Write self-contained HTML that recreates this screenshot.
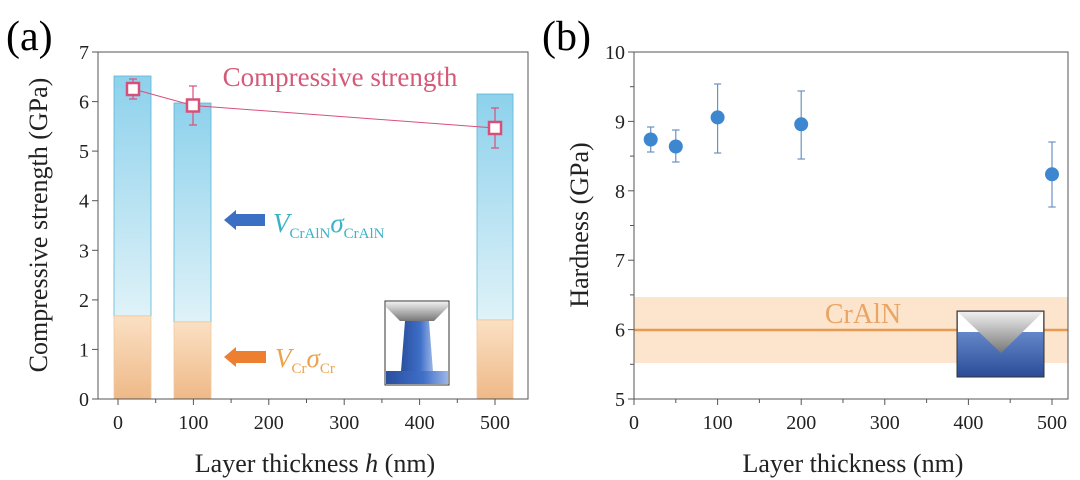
<!DOCTYPE html>
<html><head><meta charset="utf-8"><style>
html,body{margin:0;padding:0;background:#fff;}
svg{display:block;font-family:"Liberation Serif",serif;}
</style></head><body>
<svg width="1080" height="480" viewBox="0 0 1080 480" xmlns="http://www.w3.org/2000/svg">
<defs>
<linearGradient id="blue" x1="0" y1="0" x2="0" y2="1">
<stop offset="0" stop-color="#8dd1ec"/><stop offset="1" stop-color="#dff2f8"/></linearGradient>
<linearGradient id="org" x1="0" y1="0" x2="0" y2="1">
<stop offset="0" stop-color="#fbe0c4"/><stop offset="1" stop-color="#eeb987"/></linearGradient>
<linearGradient id="ind" x1="0" y1="0" x2="0" y2="1">
<stop offset="0" stop-color="#eee"/><stop offset="1" stop-color="#777"/></linearGradient>
<linearGradient id="pill" x1="0" y1="0" x2="1" y2="0">
<stop offset="0" stop-color="#2a4f9e"/><stop offset="0.6" stop-color="#3f6fc8"/><stop offset="1" stop-color="#9bb5e6"/></linearGradient>
<linearGradient id="sub" x1="0" y1="0" x2="0" y2="1">
<stop offset="0" stop-color="#7fa3e0"/><stop offset="1" stop-color="#2a4c98"/></linearGradient>
</defs>

<!-- Panel a -->
<text x="6" y="50" font-size="42">(a)</text>
<rect x="114" y="76" width="37" height="240" fill="url(#blue)" stroke="#5bb7d6" stroke-width="0.8"/>
<rect x="114" y="316" width="37" height="83" fill="url(#org)" stroke="#f0c9a0" stroke-width="0.8"/>
<rect x="174" y="103" width="37" height="219" fill="url(#blue)" stroke="#5bb7d6" stroke-width="0.8"/>
<rect x="174" y="322" width="37" height="77" fill="url(#org)" stroke="#f0c9a0" stroke-width="0.8"/>
<rect x="477" y="94" width="36" height="226" fill="url(#blue)" stroke="#5bb7d6" stroke-width="0.8"/>
<rect x="477" y="320" width="36" height="79" fill="url(#org)" stroke="#f0c9a0" stroke-width="0.8"/>
<rect x="98" y="52" width="430" height="347" fill="none" stroke="#555" stroke-width="1"/>
<g stroke="#555" stroke-width="1">
<line x1="98" y1="399" x2="92" y2="399"/><line x1="98" y1="349.4" x2="92" y2="349.4"/><line x1="98" y1="299.9" x2="92" y2="299.9"/><line x1="98" y1="250.3" x2="92" y2="250.3"/><line x1="98" y1="200.7" x2="92" y2="200.7"/><line x1="98" y1="151.1" x2="92" y2="151.1"/><line x1="98" y1="101.6" x2="92" y2="101.6"/><line x1="98" y1="52" x2="92" y2="52"/>
<line x1="118" y1="399" x2="118" y2="405"/><line x1="193.4" y1="399" x2="193.4" y2="405"/><line x1="268.8" y1="399" x2="268.8" y2="405"/><line x1="344.2" y1="399" x2="344.2" y2="405"/><line x1="419.6" y1="399" x2="419.6" y2="405"/><line x1="495" y1="399" x2="495" y2="405"/>
<line x1="155.7" y1="399" x2="155.7" y2="403"/><line x1="231.1" y1="399" x2="231.1" y2="403"/><line x1="306.5" y1="399" x2="306.5" y2="403"/><line x1="381.9" y1="399" x2="381.9" y2="403"/><line x1="457.3" y1="399" x2="457.3" y2="403"/>
</g>
<g font-size="20" text-anchor="end" fill="#222">
<text x="89" y="406">0</text><text x="89" y="356.4">1</text><text x="89" y="306.9">2</text><text x="89" y="257.3">3</text><text x="89" y="207.7">4</text><text x="89" y="158.1">5</text><text x="89" y="108.6">6</text><text x="89" y="59">7</text>
</g>
<g font-size="20" text-anchor="middle" fill="#222">
<text x="118" y="429">0</text><text x="193.4" y="429">100</text><text x="268.8" y="429">200</text><text x="344.2" y="429">300</text><text x="419.6" y="429">400</text><text x="495" y="429">500</text>
</g>
<text x="315" y="472" font-size="26" text-anchor="middle" fill="#222">Layer thickness <tspan font-style="italic">h</tspan> (nm)</text>
<text transform="translate(47,225) rotate(-90)" font-size="26" text-anchor="middle" fill="#222">Compressive strength (GPa)</text>
<polyline points="133,89 193,105.5 495,128" fill="none" stroke="#d8507a" stroke-width="1"/>
<g stroke="#d8507a" stroke-width="1.2">
<line x1="133" y1="79" x2="133" y2="99"/><line x1="129" y1="79" x2="137" y2="79"/><line x1="129" y1="99" x2="137" y2="99"/>
<line x1="193" y1="86" x2="193" y2="125"/><line x1="189" y1="86" x2="197" y2="86"/><line x1="189" y1="125" x2="197" y2="125"/>
<line x1="495" y1="108" x2="495" y2="148"/><line x1="491" y1="108" x2="499" y2="108"/><line x1="491" y1="148" x2="499" y2="148"/>
</g>
<g fill="#fff" stroke="#d8507a" stroke-width="2.5">
<rect x="127" y="83" width="12" height="12"/><rect x="187" y="99.5" width="12" height="12"/><rect x="489" y="122" width="12" height="12"/>
</g>
<text x="340" y="86" font-size="27" text-anchor="middle" fill="#d45a78">Compressive strength</text>
<polygon points="224,220 236,210 236,214 265,214 265,226 236,226 236,230" fill="#3b6fc4"/>
<text x="273" y="232" font-size="27" font-style="italic" fill="#3ab3c9">V<tspan font-size="15" font-style="normal" dy="6">CrAlN</tspan><tspan dy="-6">σ</tspan><tspan font-size="15" font-style="normal" dy="6">CrAlN</tspan></text>
<polygon points="224,357 236,347 236,351 266,351 266,363 236,363 236,367" fill="#ec7f30"/>
<text x="275" y="367" font-size="27" font-style="italic" fill="#eda24a">V<tspan font-size="15" font-style="normal" dy="6">Cr</tspan><tspan dy="-6">σ</tspan><tspan font-size="15" font-style="normal" dy="6">Cr</tspan></text>
<rect x="385" y="301" width="64" height="84" fill="#fff" stroke="#333" stroke-width="1"/>
<polygon points="386,302 448,302 448,307 434,321 400,321 386,307" fill="url(#ind)"/>
<polygon points="405,321 429,321 433,371 401,371" fill="url(#pill)"/>
<rect x="386" y="371" width="62" height="13" fill="url(#pill)"/>

<!-- Panel b -->
<text x="542" y="50" font-size="42">(b)</text>
<rect x="634" y="297" width="434" height="66" fill="#fce4cd"/>
<line x1="634" y1="330" x2="1068" y2="330" stroke="#e89a50" stroke-width="2.5"/>
<text x="863" y="323" font-size="28" text-anchor="middle" fill="#e9a565">CrAlN</text>
<rect x="957" y="311" width="87" height="66" fill="url(#sub)" stroke="#333" stroke-width="1"/>
<rect x="958" y="312" width="85" height="20" fill="#fff"/>
<polygon points="958,312 1043,312 1001,353" fill="url(#ind)"/>
<rect x="634" y="52" width="434" height="347" fill="none" stroke="#555" stroke-width="1"/>
<g stroke="#555" stroke-width="1">
<line x1="634" y1="399" x2="628" y2="399"/><line x1="634" y1="329.6" x2="628" y2="329.6"/><line x1="634" y1="260.2" x2="628" y2="260.2"/><line x1="634" y1="190.8" x2="628" y2="190.8"/><line x1="634" y1="121.4" x2="628" y2="121.4"/><line x1="634" y1="52" x2="628" y2="52"/>
<line x1="634" y1="364.3" x2="630" y2="364.3"/><line x1="634" y1="294.9" x2="630" y2="294.9"/><line x1="634" y1="225.5" x2="630" y2="225.5"/><line x1="634" y1="156.1" x2="630" y2="156.1"/><line x1="634" y1="86.7" x2="630" y2="86.7"/>
<line x1="634" y1="399" x2="634" y2="405"/><line x1="717.6" y1="399" x2="717.6" y2="405"/><line x1="801.2" y1="399" x2="801.2" y2="405"/><line x1="884.8" y1="399" x2="884.8" y2="405"/><line x1="968.4" y1="399" x2="968.4" y2="405"/><line x1="1052" y1="399" x2="1052" y2="405"/>
<line x1="675.8" y1="399" x2="675.8" y2="403"/><line x1="759.4" y1="399" x2="759.4" y2="403"/><line x1="843" y1="399" x2="843" y2="403"/><line x1="926.6" y1="399" x2="926.6" y2="403"/><line x1="1010.2" y1="399" x2="1010.2" y2="403"/>
</g>
<g font-size="20" text-anchor="end" fill="#222">
<text x="625" y="406">5</text><text x="625" y="336.6">6</text><text x="625" y="267.2">7</text><text x="625" y="197.8">8</text><text x="625" y="128.4">9</text><text x="625" y="59">10</text>
</g>
<g font-size="20" text-anchor="middle" fill="#222">
<text x="634" y="429">0</text><text x="717.6" y="429">100</text><text x="801.2" y="429">200</text><text x="884.8" y="429">300</text><text x="968.4" y="429">400</text><text x="1052" y="429">500</text>
</g>
<text x="853" y="472" font-size="26" text-anchor="middle" fill="#222">Layer thickness (nm)</text>
<text transform="translate(588,225) rotate(-90)" font-size="26" text-anchor="middle" fill="#222">Hardness (GPa)</text>
<g stroke="#6a93c0" stroke-width="1.2">
<line x1="650.7" y1="127" x2="650.7" y2="152"/><line x1="647" y1="127" x2="654.4" y2="127"/><line x1="647" y1="152" x2="654.4" y2="152"/>
<line x1="675.8" y1="130" x2="675.8" y2="162"/><line x1="672" y1="130" x2="679.6" y2="130"/><line x1="672" y1="162" x2="679.6" y2="162"/>
<line x1="717.6" y1="84" x2="717.6" y2="153"/><line x1="714" y1="84" x2="721.2" y2="84"/><line x1="714" y1="153" x2="721.2" y2="153"/>
<line x1="801.2" y1="91" x2="801.2" y2="159"/><line x1="797.5" y1="91" x2="805" y2="91"/><line x1="797.5" y1="159" x2="805" y2="159"/>
<line x1="1052" y1="142" x2="1052" y2="207"/><line x1="1048.3" y1="142" x2="1055.7" y2="142"/><line x1="1048.3" y1="207" x2="1055.7" y2="207"/>
</g>
<g fill="#3c87cf">
<circle cx="650.7" cy="139.5" r="7"/><circle cx="675.8" cy="146.5" r="7"/><circle cx="717.6" cy="117.4" r="7"/><circle cx="801.2" cy="124.3" r="7"/><circle cx="1052" cy="174.3" r="7"/>
</g>
</svg>
</body></html>
